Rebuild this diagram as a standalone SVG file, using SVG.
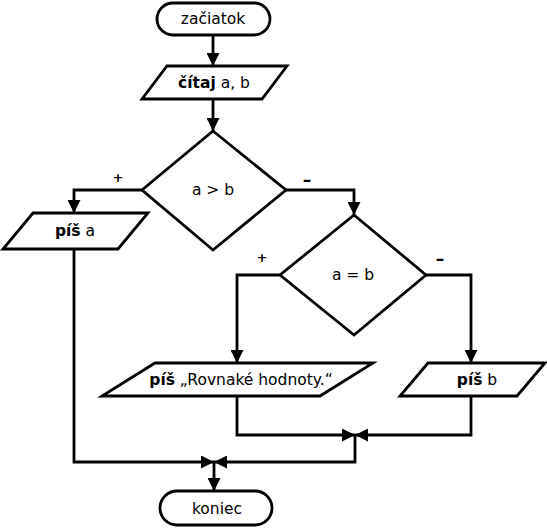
<svg xmlns="http://www.w3.org/2000/svg" width="547" height="528" viewBox="0 0 547 528">
<defs>
<style>
.shape{fill:#fff;stroke:#000;stroke-width:2.8}
.t{font-family:"DejaVu Sans",Verdana,sans-serif;font-size:15.5px;fill:#000;text-anchor:middle}
.b{font-weight:bold}
.lbl{font-family:"DejaVu Sans",Verdana,sans-serif;font-size:13px;font-weight:bold;fill:#000;text-anchor:middle}
.dash{font-size:17px}
.c{fill:none;stroke:#000;stroke-width:2.8;marker-end:url(#ah)}
</style>
<marker id="ah" markerUnits="userSpaceOnUse" markerWidth="13" markerHeight="13" refX="13" refY="6.5" orient="auto" viewBox="0 0 13 13">
<path d="M0,0 L13,6.5 L0,13 z" fill="#000"/>
</marker>
</defs>
<rect width="547" height="528" fill="#fff"/>
<g id="connectors">
<path class="c" d="M213,35 V66"/>
<path class="c" d="M213,99 V131"/>
<path class="c" d="M142,190 H74 V213"/>
<path class="c" d="M286,190 H354 V215"/>
<path class="c" d="M280,275 H237 V363"/>
<path class="c" d="M426,275 H471 V363"/>
<path class="c" d="M74,249 V462 H214"/>
<path class="c" d="M237,396 V435 H355"/>
<path class="c" d="M471,396 V435 H355"/>
<path class="c" d="M355,435 V462 H214"/>
<path class="c" d="M214,462 V491"/>
</g>
<g id="start">
<rect class="shape" x="157" y="3" width="113" height="32" rx="16" ry="16"/>
<text class="t" x="213" y="24">začiatok</text>
</g>
<g id="read">
<polygon class="shape" points="167,66 287,66 262,99 142,99"/>
<text class="t" x="214" y="88"><tspan class="b">čítaj</tspan> a, b</text>
</g>
<g id="dec1">
<polygon class="shape" points="213,131 286,190 213,250 142,190"/>
<text class="t" x="213" y="195">a &gt; b</text>
<text class="lbl" x="118" y="182">+</text>
<text class="lbl dash" x="307" y="186">–</text>
</g>
<g id="printa">
<polygon class="shape" points="33,213 148,213 118,249 3,249"/>
<text class="t" x="75" y="236"><tspan class="b">píš</tspan> a</text>
</g>
<g id="dec2">
<polygon class="shape" points="354,215 426,275 354,335 280,275"/>
<text class="t" x="353" y="280">a = b</text>
<text class="lbl" x="262" y="262">+</text>
<text class="lbl dash" x="440" y="265">–</text>
</g>
<g id="printeq">
<polygon class="shape" points="155,363 373,363 320,396 102,396"/>
<text class="t" x="241" y="385"><tspan class="b">píš</tspan> „Rovnaké hodnoty.“</text>
</g>
<g id="printb">
<polygon class="shape" points="428,363 545,363 517,396 400,396"/>
<text class="t" x="477" y="385"><tspan class="b">píš</tspan> b</text>
</g>
<g id="end">
<rect class="shape" x="160" y="491" width="112" height="34" rx="17" ry="17"/>
<text class="t" x="217" y="514">koniec</text>
</g>
</svg>
